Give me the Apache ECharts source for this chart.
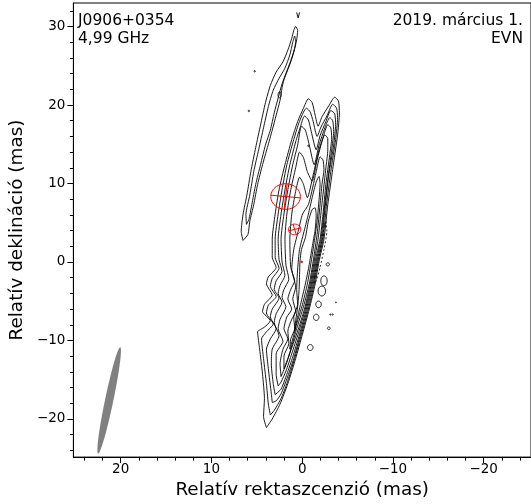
<!DOCTYPE html>
<html>
<head>
<meta charset="utf-8">
<script src="https://cdn.jsdelivr.net/npm/echarts@6/dist/echarts.min.js"></script>
<style>
  html, body { margin: 0; padding: 0; background: #fff; }
  #chart { width: 531px; height: 504px; }
</style>
</head>
<body>
<div id="chart"></div>
<script>
// ---- Axis ticks (mas) ----
const raTicks = [-20, -10, 0, 10, 20];
const raMinorTicks = [-24, -22, -18, -16, -14, -12, -8, -6, -4, -2, 2, 4, 6, 8, 12, 14, 16, 18, 22, 24];
const decTicks = [-20, -10, 0, 10, 20, 30];
const decMinorTicks = [-24, -22, -18, -16, -14, -12, -8, -6, -4, -2, 2, 4, 6, 8, 12, 14, 16, 18, 22, 24, 26, 28, 32];

// ---- Total-intensity contours, [relative RA, relative Dec] in mas, outermost first ----
const contour0 = [[3.94,-21.1],[4.26,-19.7],[4.16,-17.4],[4.37,-14.3],[4.69,-11.1],[4.91,-8.9],[4.16,-8.3],[3.51,-7.5],[4.37,-6.3],[4.16,-5.4],[3.30,-4.2],[3.94,-2.8],[3.73,-1.9],[2.87,-0.7],[3.30,0.6],[3.30,2.9],[2.98,6.1],[2.55,9.2],[1.90,12.4],[1.15,15.6],[0.50,17.9],[-0.14,19.6],[-0.68,20.8],[-1.10,20.3],[-1.43,18.7],[-1.75,17.3],[-2.18,18.5],[-2.93,19.9],[-3.58,21.0],[-4.00,20.5],[-4.10,19.0],[-3.90,16.2],[-3.36,11.8],[-2.82,7.3],[-2.40,2.9],[-1.86,0.1],[-1.43,-2.8],[-0.78,-6.0],[-0.03,-9.2],[0.72,-12.3],[1.58,-15.5],[2.44,-18.1],[3.30,-20.0],[3.94,-21.1]];
const contour1 = [[3.51,-19.5],[3.73,-18.1],[3.94,-15.5],[4.26,-12.3],[4.48,-9.8],[3.94,-8.9],[3.19,-7.9],[3.94,-6.5],[3.73,-5.5],[2.87,-4.4],[3.51,-3.1],[3.30,-2.1],[2.55,-0.8],[2.98,0.6],[2.98,2.9],[2.65,6.1],[2.22,9.2],[1.69,12.4],[0.93,15.6],[0.40,17.6],[-0.14,19.1],[-0.46,19.6],[-0.89,19.1],[-1.21,17.9],[-1.64,16.0],[-2.07,17.2],[-2.72,18.6],[-3.36,20.1],[-3.79,19.6],[-3.90,18.4],[-3.68,15.6],[-3.15,11.5],[-2.66,7.1],[-2.29,2.9],[-1.75,0.1],[-1.32,-2.8],[-0.68,-6.0],[0.08,-9.2],[0.83,-12.3],[1.69,-15.5],[2.33,-17.4],[3.08,-18.9],[3.51,-19.5]];
const contour2 = [[3.30,-17.9],[3.40,-16.8],[3.73,-13.6],[3.94,-11.1],[3.51,-9.8],[2.87,-8.5],[3.51,-7.0],[3.30,-6.0],[2.55,-4.6],[3.08,-3.5],[2.87,-2.4],[2.22,-1.2],[2.55,0.3],[2.65,2.9],[2.33,6.1],[1.90,9.2],[1.36,12.4],[0.72,15.3],[0.18,17.3],[-0.25,18.6],[-0.68,18.1],[-1.00,16.6],[-1.54,14.3],[-1.97,16.1],[-2.61,17.9],[-3.15,19.3],[-3.58,18.9],[-3.68,17.5],[-3.47,14.9],[-2.93,11.1],[-2.50,6.7],[-2.18,2.9],[-1.64,0.1],[-1.21,-2.8],[-0.57,-6.0],[0.18,-9.2],[0.93,-12.3],[1.69,-14.9],[2.33,-16.8],[2.87,-17.7],[3.30,-17.9]];
const contour3 = [[2.98,-16.9],[3.19,-15.5],[3.40,-13.0],[3.30,-11.1],[2.55,-9.4],[3.08,-7.7],[2.87,-6.6],[2.22,-5.1],[2.65,-4.0],[2.44,-3.0],[1.90,-1.7],[2.22,0.0],[2.33,2.9],[2.01,6.1],[1.58,9.2],[1.04,12.4],[0.50,14.9],[0.08,17.3],[-0.35,16.8],[-0.78,14.9],[-1.32,12.4],[-1.86,14.9],[-2.50,17.1],[-3.04,18.4],[-3.36,18.0],[-3.47,16.6],[-3.25,14.3],[-2.82,10.5],[-2.40,6.4],[-2.07,2.9],[-1.54,0.1],[-1.10,-2.8],[-0.46,-6.0],[0.29,-9.2],[1.04,-12.1],[1.69,-14.3],[2.33,-16.2],[2.98,-16.9]];
const contour4 = [[2.65,-15.8],[2.87,-14.3],[2.87,-11.7],[2.12,-10.1],[2.65,-8.5],[2.44,-7.3],[1.79,-5.7],[2.22,-4.5],[2.01,-3.5],[1.47,-2.2],[1.79,-0.4],[1.90,2.9],[1.69,6.1],[1.26,9.2],[0.72,12.0],[0.29,14.0],[-0.14,13.3],[-0.57,11.5],[-1.10,10.3],[-1.64,13.0],[-2.29,15.8],[-2.82,17.5],[-3.15,17.1],[-3.25,15.8],[-3.04,13.7],[-2.61,9.9],[-2.29,6.1],[-1.97,2.9],[-1.43,0.1],[-1.00,-2.8],[-0.35,-6.0],[0.40,-9.0],[1.15,-11.7],[1.79,-13.9],[2.33,-15.3],[2.65,-15.8]];
const contour5 = [[2.33,-14.6],[2.44,-13.0],[2.12,-11.1],[1.58,-9.8],[2.01,-8.5],[1.69,-7.0],[1.15,-6.0],[1.58,-4.7],[1.26,-3.5],[0.83,-2.4],[1.26,-0.7],[1.36,2.9],[1.15,6.1],[0.72,9.0],[0.29,10.8],[-0.14,9.9],[-0.57,8.2],[-1.21,11.1],[-1.86,14.3],[-2.50,16.2],[-2.82,15.7],[-2.82,14.3],[-2.61,12.0],[-2.29,8.6],[-1.97,5.2],[-1.75,2.9],[-1.32,0.1],[-0.89,-2.8],[-0.25,-6.0],[0.50,-8.8],[1.26,-11.3],[1.79,-13.1],[2.33,-14.6]];
const contour6 = [[2.01,-13.6],[2.01,-12.0],[1.47,-10.4],[1.58,-8.8],[1.15,-7.3],[0.72,-6.3],[1.04,-4.7],[0.72,-3.2],[1.15,-0.9],[0.93,1.6],[0.40,4.1],[-0.03,6.1],[-0.68,7.3],[-1.10,9.2],[-1.54,11.5],[-1.97,13.4],[-2.29,13.0],[-2.40,11.8],[-2.18,9.9],[-1.97,7.3],[-1.64,3.5],[-1.21,0.1],[-0.78,-2.8],[-0.14,-5.7],[0.61,-8.5],[1.15,-10.7],[1.58,-12.3],[2.01,-13.6]];
const contour7 = [[1.36,-11.1],[1.26,-9.8],[0.83,-8.5],[0.93,-7.0],[0.50,-5.4],[0.61,-3.5],[0.50,-0.9],[0.29,1.6],[-0.25,4.1],[-0.68,6.1],[-1.10,8.2],[-1.54,10.2],[-1.86,10.9],[-1.97,9.9],[-1.86,8.0],[-1.64,5.2],[-1.32,2.5],[-1.00,0.1],[-0.57,-2.8],[-0.03,-5.4],[0.61,-7.9],[1.04,-9.8],[1.36,-11.1]];
const contour8 = [[0.83,-8.8],[0.72,-7.5],[0.50,-5.7],[0.34,-3.5],[0.29,-1.6],[0.24,0.1],[0.08,1.6],[-0.35,3.1],[-0.68,5.2],[-1.10,6.7],[-1.43,6.9],[-1.54,5.9],[-1.43,4.1],[-1.10,1.9],[-0.78,-0.3],[-0.35,-2.8],[0.18,-5.4],[0.61,-7.5],[0.83,-8.8]];

// Faint north-eastern ridge (two lowest levels)
const ridge0 = [[6.52,2.75],[6.72,3.9],[6.52,6.05],[6.09,8.55],[5.66,11.5],[5.12,14.6],[4.59,17.45],[4.05,20.3],[3.51,22.5],[2.87,24.2],[2.12,25.5],[1.58,27.0],[1.15,28.5],[0.93,29.5],[0.72,30.0],[0.50,29.5],[0.61,28.3],[0.93,26.7],[1.26,25.5],[1.69,24.2],[2.01,23.2],[2.22,22.2],[2.44,20.6],[2.87,18.7],[3.30,16.8],[3.83,14.6],[4.37,12.4],[4.91,9.9],[5.34,7.3],[5.77,5.2],[5.98,3.5],[6.52,2.75]];
const ridge1 = [[6.14,4.8],[6.20,6.05],[5.77,8.55],[5.34,11.5],[4.80,14.3],[4.26,17.1],[3.73,19.8],[3.19,21.9],[2.55,23.4],[1.90,24.7],[1.36,26.4],[1.04,28.0],[0.83,28.8],[0.72,28.0],[1.04,26.4],[1.47,25.0],[1.90,23.7],[2.22,22.7],[2.65,20.9],[3.08,19.0],[3.51,16.8],[4.05,14.9],[4.59,12.4],[5.12,9.9],[5.55,7.3],[5.88,5.4],[6.14,4.8]];
const ridgeTip = [[0.61,31.8],[0.45,31.1],[0.29,31.8]];

// Negative (dashed) contour west of the jet
const negContour = [[-2.61,5.17],[-2.72,3.9],[-2.40,1.6],[-1.97,-0.67],[-1.54,-2.45],[-1.32,-2.7],[-1.43,-1.56],[-1.86,0.6],[-2.18,2.63],[-2.40,4.4],[-2.61,5.17]];

// Small closed islands: [RA, Dec, half-width RA, half-height Dec] (mas)
const islands = [
  [2.49, 21.3, 0.17, 0.38],
  [-2.82, -0.3, 0.18, 0.20],
  [-2.40, -2.4, 0.35, 0.63],
  [-2.16, -3.7, 0.41, 0.63],
  [-1.80, -5.4, 0.30, 0.42],
  [-1.54, -7.05, 0.30, 0.40],
  [-2.93, -8.45, 0.15, 0.17],
  [-0.89, -10.9, 0.30, 0.38],
  [5.23, 24.3, 0.07, 0.10],
  [5.88, 19.25, 0.07, 0.10],
  [-0.68, 14.8, 0.07, 0.10],
  [-3.10, -6.7, 0.06, 0.08],
  [-3.36, -6.7, 0.06, 0.08],
  [-3.72, -5.15, 0.05, 0.07]
];

// Circular Gaussian model components: [RA, Dec, radius, cross angle (deg)]
const components = [
  [1.83, 8.34, 1.63, -6],
  [0.83, 4.15, 0.68, 15],
  [0.05, 0.02, 0.10, 0]
];

// Restoring beam: [RA, Dec, semi-major, semi-minor, position angle (deg)]
const beam = [[21.27, -17.64, 6.88, 0.46, -10.2]];

const FONT = '"DejaVu Sans", sans-serif';
const fmtTick = v => (v < 0 ? '\u2212' + Math.abs(v) : String(v));

const raRange = [-25.21, 25.21];
const decRange = [-24.86, 33.0];

function contourSeries(data, extra) {
  return Object.assign({
    type: 'line',
    data: data,
    xAxisIndex: 0,
    yAxisIndex: 0,
    showSymbol: false,
    symbol: 'none',
    smooth: 0.2,
    silent: true,
    lineStyle: { color: '#000', width: 0.9 },
    z: 3
  }, extra || {});
}

const contours = [contour0, contour1, contour2, contour3, contour4, contour5, contour6, contour7, contour8, ridge0, ridge1];

const series = contours.map(c => contourSeries(c));
series.push(contourSeries(ridgeTip, { smooth: false }));
series.push(contourSeries(negContour, { lineStyle: { color: '#000', width: 0.8, type: [2, 2] } }));

// islands drawn as small ellipses in data units
series.push({
  type: 'custom',
  coordinateSystem: 'cartesian2d',
  xAxisIndex: 0, yAxisIndex: 0,
  silent: true,
  z: 3,
  data: islands,
  renderItem: function (params, api) {
    const c = api.coord([api.value(0), api.value(1)]);
    const s = api.size([api.value(2), api.value(3)]);
    const pts = [];
    for (let i = 0; i < 36; i++) {
      const t = 2 * Math.PI * i / 36;
      pts.push([c[0] + s[0] * Math.cos(t), c[1] + s[1] * Math.sin(t)]);
    }
    return { type: 'polygon', shape: { points: pts }, style: { fill: 'none', stroke: '#000', lineWidth: 0.9 } };
  }
});

// model components: circle plus cross
series.push({
  type: 'custom',
  coordinateSystem: 'cartesian2d',
  xAxisIndex: 0, yAxisIndex: 0,
  silent: true,
  z: 5,
  data: components,
  renderItem: function (params, api) {
    const x = api.value(0), y = api.value(1), r = api.value(2);
    const a = api.value(3) * Math.PI / 180;
    const c = api.coord([x, y]);
    const s = api.size([r, r]);
    const pts = [];
    for (let i = 0; i < 48; i++) {
      const t = 2 * Math.PI * i / 48;
      pts.push([c[0] + s[0] * Math.cos(t), c[1] + s[1] * Math.sin(t)]);
    }
    const p1 = api.coord([x - r * Math.sin(a), y - r * Math.cos(a)]);
    const p2 = api.coord([x + r * Math.sin(a), y + r * Math.cos(a)]);
    const q1 = api.coord([x - r * Math.cos(a), y + r * Math.sin(a)]);
    const q2 = api.coord([x + r * Math.cos(a), y - r * Math.sin(a)]);
    const red = '#ff0000';
    return {
      type: 'group',
      children: [
        { type: 'polygon', shape: { points: pts }, style: { fill: 'none', stroke: red, lineWidth: 1 } },
        { type: 'line', shape: { x1: p1[0], y1: p1[1], x2: p2[0], y2: p2[1] }, style: { stroke: red, lineWidth: 1 } },
        { type: 'line', shape: { x1: q1[0], y1: q1[1], x2: q2[0], y2: q2[1] }, style: { stroke: red, lineWidth: 1 } }
      ]
    };
  }
});

// restoring beam ellipse
series.push({
  type: 'custom',
  coordinateSystem: 'cartesian2d',
  xAxisIndex: 0, yAxisIndex: 0,
  silent: true,
  z: 4,
  data: beam,
  renderItem: function (params, api) {
    const x = api.value(0), y = api.value(1), maj = api.value(2), min = api.value(3);
    const pa = api.value(4) * Math.PI / 180;
    const pts = [];
    for (let i = 0; i < 72; i++) {
      const t = 2 * Math.PI * i / 72;
      const u = maj * Math.cos(t), v = min * Math.sin(t);
      pts.push(api.coord([x + u * Math.sin(pa) + v * Math.cos(pa), y + u * Math.cos(pa) - v * Math.sin(pa)]));
    }
    return { type: 'polygon', shape: { points: pts }, style: { fill: '#808080', stroke: 'none' } };
  }
});

const chart = echarts.init(document.getElementById('chart'), null, { renderer: 'canvas' });

chart.setOption({
  animation: false,
  backgroundColor: '#fff',
  textStyle: { fontFamily: FONT },
  grid: {
    left: 68, top: 3, width: 469, height: 456,
    show: true, borderColor: '#000', borderWidth: 1, backgroundColor: 'transparent'
  },
  xAxis: [
    {
      type: 'value', min: raRange[0], max: raRange[1], inverse: true, position: 'bottom',
      axisLine: { show: true, onZero: false, lineStyle: { color: '#000', width: 1 } },
      axisTick: { show: true, inside: false, length: 6, customValues: raTicks, lineStyle: { color: '#000', width: 1 } },
      axisLabel: { show: true, customValues: raTicks, formatter: fmtTick, color: '#000', fontSize: 13.5, fontFamily: FONT, margin: 5 },
      splitLine: { show: false },
      name: 'Relatív rektaszcenzió (mas)', nameLocation: 'middle', nameGap: 20,
      nameTextStyle: { color: '#000', fontSize: 18.4, fontFamily: FONT, verticalAlign: 'top' }
    },
    {
      type: 'value', min: raRange[0], max: raRange[1], inverse: true, position: 'bottom',
      axisLine: { show: false, onZero: false },
      axisTick: { show: true, inside: false, length: 3.5, customValues: raMinorTicks, lineStyle: { color: '#000', width: 1 } },
      axisLabel: { show: false },
      splitLine: { show: false }
    }
  ],
  yAxis: [
    {
      type: 'value', min: decRange[0], max: decRange[1], position: 'left',
      axisLine: { show: true, onZero: false, lineStyle: { color: '#000', width: 1 } },
      axisTick: { show: true, inside: false, length: 6, customValues: decTicks, lineStyle: { color: '#000', width: 1 } },
      axisLabel: { show: true, customValues: decTicks, formatter: fmtTick, color: '#000', fontSize: 13.5, fontFamily: FONT, margin: 8 },
      splitLine: { show: false },
      name: 'Relatív deklináció (mas)', nameLocation: 'middle', nameGap: 38,
      nameTextStyle: { color: '#000', fontSize: 18.4, fontFamily: FONT }
    },
    {
      type: 'value', min: decRange[0], max: decRange[1], position: 'left',
      axisLine: { show: false, onZero: false },
      axisTick: { show: true, inside: false, length: 3.5, customValues: decMinorTicks, lineStyle: { color: '#000', width: 1 } },
      axisLabel: { show: false },
      splitLine: { show: false }
    }
  ],
  graphic: [
    { type: 'text', x: 78, y: 13, style: { text: 'J0906+0354', font: '15.5px ' + FONT, fill: '#000', align: 'left', verticalAlign: 'top' } },
    { type: 'text', x: 78, y: 31, style: { text: '4,99 GHz', font: '15.5px ' + FONT, fill: '#000', align: 'left', verticalAlign: 'top' } },
    { type: 'text', x: 523, y: 13, style: { text: '2019. március 1.', font: '15.5px ' + FONT, fill: '#000', align: 'right', verticalAlign: 'top' } },
    { type: 'text', x: 523, y: 31, style: { text: 'EVN', font: '15.5px ' + FONT, fill: '#000', align: 'right', verticalAlign: 'top' } }
  ],
  series: series
});
</script>
</body>
</html>
